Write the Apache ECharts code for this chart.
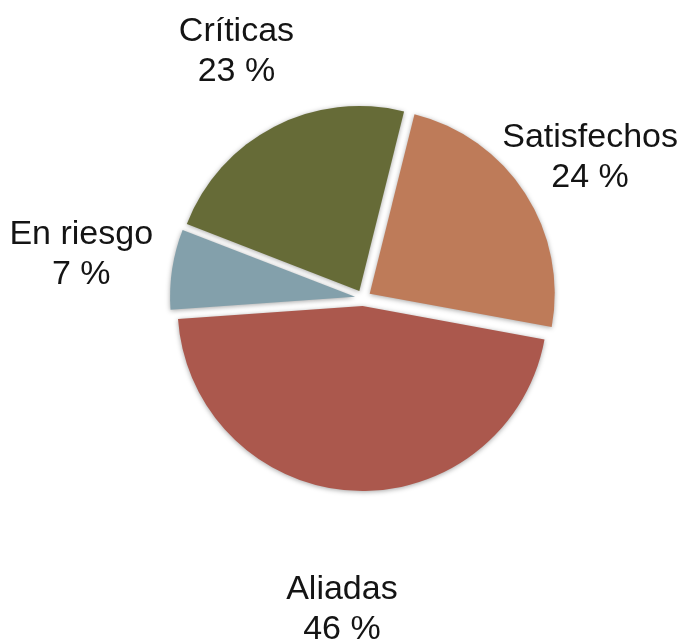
<!DOCTYPE html>
<html>
<head>
<meta charset="utf-8">
<style>
  html, body { margin: 0; padding: 0; background: #fff; }
  #chart { width: 684px; height: 644px; }
</style>
<script src="https://cdn.jsdelivr.net/npm/echarts@6/dist/echarts.min.js"></script>
</head>
<body>
<div id="chart"></div>
<script>
// Segment names, clockwise from the top
const categories = ['Satisfechos', 'Aliadas', 'En riesgo', 'Críticas'];
// Share of each segment, in percent
const shares = [24, 46, 7, 23];
const sliceColors = ['#BE7B59', '#AB584D', '#83A0AB', '#666B37'];
// Fine nudges of each label from its place on the label ring, in px
const labelDx = [-15, -5, 3, 6];
const labelDy = [16, 24, 0, 9];

const pieData = categories.map((name, i) => ({
  name: name,
  value: shares[i],
  selected: true,
  itemStyle: { color: sliceColors[i] }
}));

const center = [363, 298];
const chart = echarts.init(document.getElementById('chart'));

chart.setOption({
  backgroundColor: '#ffffff',
  animation: false,
  series: [
    {
      // the exploded pie itself
      type: 'pie',
      center: center,
      radius: 185,
      startAngle: 76,
      clockwise: true,
      selectedMode: 'multiple',
      selectedOffset: 8,
      avoidLabelOverlap: false,
      label: { show: false },
      labelLine: { show: false },
      itemStyle: {
        shadowBlur: 5,
        shadowColor: 'rgba(0,0,0,0.35)',
        shadowOffsetY: 1
      },
      emphasis: { disabled: true },
      data: pieData
    },
    {
      // transparent ring that carries the category labels around the pie
      type: 'pie',
      center: center,
      radius: [270, 300],
      startAngle: 76,
      clockwise: true,
      silent: true,
      avoidLabelOverlap: false,
      itemStyle: { color: 'transparent' },
      label: {
        show: true,
        position: 'inside',
        formatter: '{b}\n{c} %',
        fontFamily: 'Liberation Sans, Arial, sans-serif',
        fontSize: 34,
        lineHeight: 40,
        color: '#141414'
      },
      labelLine: { show: false },
      labelLayout: function (p) {
        return { dx: labelDx[p.dataIndex], dy: labelDy[p.dataIndex] };
      },
      emphasis: { disabled: true },
      data: categories.map((name, i) => ({ name: name, value: shares[i] }))
    }
  ]
});
</script>
</body>
</html>
